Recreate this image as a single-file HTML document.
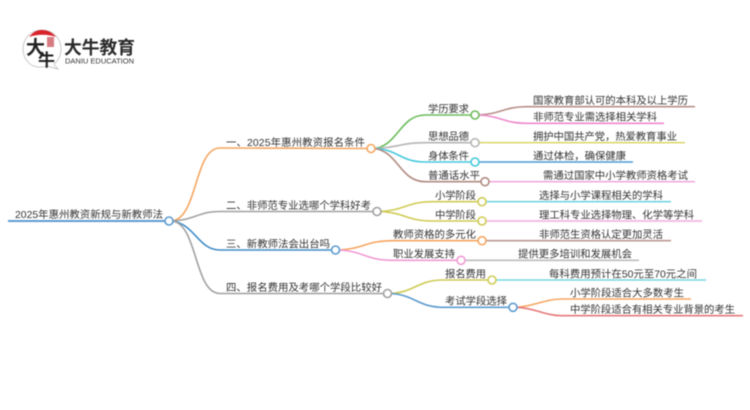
<!DOCTYPE html>
<html><head><meta charset="utf-8">
<style>
html,body{margin:0;padding:0;background:#fff;width:750px;height:410px;overflow:hidden}
svg{display:block;filter:blur(.4px)}
text{font-family:"Liberation Sans","Noto Sans CJK SC",sans-serif;font-size:10.4px;fill:#333}
path{fill:none;stroke-width:1.6}
circle{fill:#fff;stroke-width:1.6}
</style></head><body>
<svg width="750" height="410" viewBox="0 0 750 410" xmlns="http://www.w3.org/2000/svg">
<!-- logo -->
<path d="M47 66 C30 71 23 58 23 49 C23 38 31 30 42 30 C53 30 61 38 61 49 C61 56 58 61 54 64 C55 66 56 67 58 69 C54 68 50 67 47 66 Z" style="stroke:#bbb;stroke-width:.8;fill:#fff"/>
<path d="M29 37 C34 31 38 30 42 30 C47 30 52 32 56 37 C48 34 37 34 29 37 Z" style="stroke:none;fill:#d8232a"/>
<rect x="47" y="37" width="7" height="10" fill="#c9505a" opacity=".75"/>
<text x="26" y="54" style="font-size:19px;font-weight:bold;fill:#222">大</text>
<text x="38" y="66" style="font-size:17px;font-weight:bold;fill:#222">牛</text>
<text x="64" y="54" textLength="71" lengthAdjust="spacingAndGlyphs" style="font-size:18px;font-weight:bold;fill:#2b2b2b">大牛教育</text>
<text x="65" y="63.5" textLength="69" lengthAdjust="spacingAndGlyphs" style="font-size:7px;fill:#333">DANIU EDUCATION</text>

<!-- main branches -->
<path d="M172 221 C198 218 194 148 220 148 L367 148.5" style="stroke:#f5a55f"/>
<path d="M172 221 C195 220 198 211.5 220 211.5 L373 211.5" style="stroke:#a0a0a0"/>
<path d="M172 221 C195 224 198 250 220 250 L332 250" style="stroke:#3f8cc8"/>
<path d="M172 221 C198 224 194 293.5 220 293.5 L384 293.5" style="stroke:#a0a0a0"/>
<path d="M8 221 L165 221" style="stroke:#5b9bd0;stroke-width:2"/>

<!-- level 2 -->
<path d="M374 148.5 C398 146 400 115 425 115 L471 115" style="stroke:#6cbb5a"/>
<path d="M374 148.5 C398 148 400 142.7 425 142.7 L471 142.7" style="stroke:#b5b5b5"/>
<path d="M374 148.5 C398 149 400 162 425 162 L471 162" style="stroke:#44c8dc"/>
<path d="M374 148.5 C398 151 400 181.7 425 181.7 L481 181.7" style="stroke:#b08a80"/>
<path d="M381 211.5 C405 210 408 201.7 432 201.7 L478 201.7" style="stroke:#cfcb55"/>
<path d="M381 211.5 C405 213 408 221 432 221 L478 221" style="stroke:#cfcb55"/>
<path d="M339 250 C363 249 366 240.7 392 240.7 L478 240.7" style="stroke:#f5a55f"/>
<path d="M339 250 C363 251 366 260.3 392 260.3 L457 260.3" style="stroke:#f09ad4"/>
<path d="M391 293.5 C415 292 418 280 443 280 L488 280" style="stroke:#cfcb55"/>
<path d="M391 293.5 C415 295 418 307.3 443 307.3 L509 307.3" style="stroke:#5b9bd0"/>

<!-- leaves -->
<path d="M479 115 C500 114 505 106.7 526 106.7 L695 106.7" style="stroke:#b88f88"/>
<path d="M479 115 C500 116 505 123.3 526 123.3 L664 123.3" style="stroke:#ee88cc"/>
<path d="M479 142.7 L685 142.7" style="stroke:#dcd873"/>
<path d="M479 162 L633 162" style="stroke:#4a9ad4"/>
<path d="M489 181.7 L695 181.7" style="stroke:#f0aadc"/>
<path d="M486 201.7 L671 201.7" style="stroke:#74d6e2"/>
<path d="M486 221 L702 221" style="stroke:#f0aadc"/>
<path d="M486 240.7 L671 240.7" style="stroke:#bb9a92"/>
<path d="M465 260.3 L639 260.3" style="stroke:#bdbdbd"/>
<path d="M496 280 L706 280" style="stroke:#74d6e2"/>
<path d="M517 307.3 C535 306 545 299 562 299 L691 299" style="stroke:#f5a55f"/>
<path d="M517 307.3 C535 308 545 315.7 562 315.7 L743 315.7" style="stroke:#e87878"/>

<!-- nodes -->
<circle cx="169" cy="221" r="4" style="stroke:#5b9bd0"/>
<circle cx="371" cy="148.5" r="4" style="stroke:#f5a55f"/>
<circle cx="377" cy="211.5" r="4" style="stroke:#a0a0a0"/>
<circle cx="335.5" cy="250" r="4" style="stroke:#5b9bd0"/>
<circle cx="387.5" cy="293.5" r="4" style="stroke:#a0a0a0"/>
<circle cx="475" cy="115" r="4" style="stroke:#6cbb5a"/>
<circle cx="475" cy="142.7" r="4" style="stroke:#b5b5b5"/>
<circle cx="475" cy="162" r="4" style="stroke:#44c8dc"/>
<circle cx="485" cy="181.7" r="4" style="stroke:#b08a80"/>
<circle cx="482" cy="201.7" r="4" style="stroke:#cfcb55"/>
<circle cx="482" cy="221" r="4" style="stroke:#cfcb55"/>
<circle cx="482" cy="240.7" r="4" style="stroke:#f5a55f"/>
<circle cx="461" cy="260.3" r="4" style="stroke:#f09ad4"/>
<circle cx="492" cy="280" r="4" style="stroke:#cfcb55"/>
<circle cx="513" cy="307.3" r="4" style="stroke:#5b9bd0"/>

<!-- labels -->
<text x="15" y="218" textLength="148">2025年惠州教资新规与新教师法</text>
<text x="226" y="146" textLength="139">一、2025年惠州教资报名条件</text>
<text x="226" y="209" textLength="145">二、非师范专业选哪个学科好考</text>
<text x="226" y="247.5" textLength="104">三、新教师法会出台吗</text>
<text x="226" y="291" textLength="156">四、报名费用及考哪个学段比较好</text>
<text x="428" y="112.5" textLength="41">学历要求</text>
<text x="428" y="140" textLength="41">思想品德</text>
<text x="428" y="159.5" textLength="41">身体条件</text>
<text x="428" y="179" textLength="52">普通话水平</text>
<text x="435" y="199" textLength="41">小学阶段</text>
<text x="435" y="218.5" textLength="41">中学阶段</text>
<text x="393" y="238" textLength="83">教师资格的多元化</text>
<text x="393" y="257.5" textLength="62">职业发展支持</text>
<text x="445" y="277.5" textLength="41">报名费用</text>
<text x="445" y="304.5" textLength="62">考试学段选择</text>
<text x="533" y="104" textLength="155">国家教育部认可的本科及以上学历</text>
<text x="533" y="120.7" textLength="124">非师范专业需选择相关学科</text>
<text x="533" y="140" textLength="144">拥护中国共产党，热爱教育事业</text>
<text x="533" y="159.5" textLength="93">通过体检，确保健康</text>
<text x="543" y="179" textLength="145">需通过国家中小学教师资格考试</text>
<text x="539" y="199" textLength="124">选择与小学课程相关的学科</text>
<text x="539" y="218.5" textLength="155">理工科专业选择物理、化学等学科</text>
<text x="539" y="238" textLength="124">非师范生资格认定更加灵活</text>
<text x="518" y="257.5" textLength="114">提供更多培训和发展机会</text>
<text x="549" y="277.5" textLength="148">每科费用预计在50元至70元之间</text>
<text x="570" y="296.5" textLength="114">小学阶段适合大多数考生</text>
<text x="570" y="313" textLength="165">中学阶段适合有相关专业背景的考生</text>
</svg>
</body></html>
